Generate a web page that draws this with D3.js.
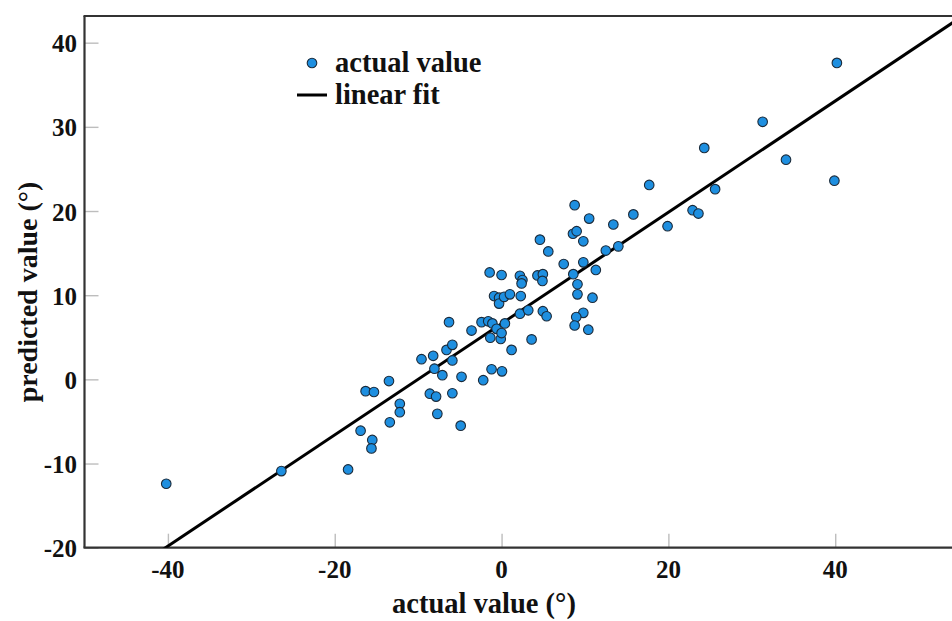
<!DOCTYPE html>
<html>
<head>
<meta charset="utf-8">
<script src="https://cdn.jsdelivr.net/npm/d3@7"></script>
<style>
  html, body { margin: 0; padding: 0; background: #fff; }
  svg { display: block; }
  text { font-family: "Liberation Serif", "Times New Roman", serif; font-weight: bold; fill: #111; }
</style>
</head>
<body>
<svg id="chart" width="952" height="621"></svg>
<script>
// ---- data ----
const actualValues = [
  -40.2, -26.4, -18.4, -16.9, -15.5, -15.6, -16.3, -15.3, -13.5, -13.4,
  -12.2, -12.2, -9.6, -8.2, -8.05, -8.6, -7.85, -7.7, -7.1, -6.6,
  -6.3, -5.9, -5.9, -5.9, -4.9, -4.8, -3.6, -2.4, -2.2, -1.6,
  -1.43, -1.35, -1.2, -1.1, -0.9, -0.6, -0.3, -0.3, -0.1, 0.0,
  0.0, 0.05, 0.3, 0.4, 1.0, 1.2, 2.2, 2.5, 2.4, 2.2,
  2.3, 3.2, 3.6, 4.3, 4.6, 4.95, 4.9, 4.95, 5.4, 5.6,
  7.45, 8.56, 9.0, 8.76, 9.8, 8.6, 9.8, 9.1, 9.1, 10.9,
  11.3, 10.5, 9.8, 8.95, 8.76, 10.4, 12.5, 14.0, 13.4, 15.8,
  17.7, 19.9, 22.9, 23.6, 24.3, 25.6, 31.3, 34.1, 39.9, 40.2
];
const predictedValues = [
  -12.4, -10.9, -10.7, -6.1, -7.2, -8.2, -1.4, -1.5, -0.2, -5.1,
  -2.9, -3.9, 2.4, 2.8, 1.27, -1.7, -2.05, -4.1, 0.5, 3.5,
  6.8, 4.1, 2.25, -1.65, -5.5, 0.3, 5.8, 6.8, -0.1, 6.9,
  12.7, 4.95, 1.2, 6.65, 9.9, 6.0, 9.7, 9.0, 4.8, 12.4,
  5.5, 0.95, 9.8, 6.65, 10.1, 3.5, 12.3, 11.8, 11.4, 7.8,
  9.9, 8.2, 4.75, 12.35, 16.6, 12.5, 11.7, 8.1, 7.5, 15.2,
  13.7, 17.3, 17.6, 20.7, 16.4, 12.5, 13.9, 11.3, 10.1, 9.7,
  13.0, 19.1, 7.9, 7.4, 6.4, 5.9, 15.3, 15.8, 18.4, 19.6,
  23.1, 18.2, 20.1, 19.7, 27.5, 22.6, 30.6, 26.1, 23.6, 37.6
];
const xTicks = [-40, -20, 0, 20, 40];
const yTicks = [-20, -10, 0, 10, 20, 30, 40];
const fitIntercept = 6.63;
const fitSlope = 0.661;
const xTitle = "actual value (°)";
const yTitle = "predicted value (°)";
const legendLabels = ["actual value", "linear fit"];

// ---- layout ----
const svg = d3.select("#chart");
const pLeft = 84.5, pRight = 952, pTop = 16, pBottom = 547.7;

const x = d3.scaleLinear().domain([-50, 54]).range([pLeft, pRight]);
const y = d3.scaleLinear().domain([-20, 43.17]).range([pBottom, pTop]);

// clip
svg.append("defs").append("clipPath").attr("id", "plotclip")
  .append("rect").attr("x", pLeft).attr("y", pTop).attr("width", pRight - pLeft).attr("height", pBottom - pTop);

// ticks (inside, gray) via axes
const xAxis = d3.axisTop(x).tickValues(xTicks).tickSize(14).tickFormat("");
const yAxis = d3.axisRight(y).tickValues(yTicks).tickSize(14).tickFormat("");
const gx = svg.append("g").attr("transform", `translate(0,${pBottom})`).call(xAxis);
const gy = svg.append("g").attr("transform", `translate(${pLeft},0)`).call(yAxis);
[gx, gy].forEach(g => {
  g.select(".domain").remove();
  g.selectAll(".tick line").attr("stroke", "#bdbdbd").attr("stroke-width", 1.4);
});

// tick labels
svg.append("g").selectAll("text").data(xTicks).join("text")
  .attr("x", d => x(d)).attr("y", 578)
  .attr("text-anchor", "middle").attr("font-size", 25)
  .text(d => d);
svg.append("g").selectAll("text").data(yTicks).join("text")
  .attr("x", 77).attr("y", d => y(d)).attr("dy", "0.38em")
  .attr("text-anchor", "end").attr("font-size", 25)
  .text(d => d);

// frame
const frame = svg.append("g").attr("stroke", "#333").attr("stroke-width", 2.2).attr("fill", "none");
frame.append("line").attr("x1", pLeft).attr("x2", pLeft).attr("y1", pTop).attr("y2", pBottom);
frame.append("line").attr("x1", pLeft - 1).attr("x2", pRight).attr("y1", pTop).attr("y2", pTop);
frame.append("line").attr("x1", pLeft - 1).attr("x2", pRight).attr("y1", pBottom).attr("y2", pBottom);

// fit line
const plot = svg.append("g").attr("clip-path", "url(#plotclip)");
const xs = [-50, 60];
plot.append("path")
  .datum(xs.map(v => [v, fitIntercept + fitSlope * v]))
  .attr("d", d3.line().x(d => x(d[0])).y(d => y(d[1])))
  .attr("stroke", "#000").attr("stroke-width", 3).attr("fill", "none");

// points
const pts = actualValues.map((v, i) => ({ a: v, p: predictedValues[i] }));
svg.append("g").selectAll("circle").data(pts).join("circle")
  .attr("cx", d => x(d.a)).attr("cy", d => y(d.p)).attr("r", 4.8)
  .attr("fill", "#1e8fe0").attr("stroke", "#1a2a3a").attr("stroke-width", 1.1);

// axis titles
svg.append("text").attr("x", 484).attr("y", 613).attr("text-anchor", "middle")
  .attr("font-size", 28.5).text(xTitle);
svg.append("text").attr("transform", "translate(37,292) rotate(-90)")
  .attr("text-anchor", "middle").attr("font-size", 28).text(yTitle);

// legend
const lg = svg.append("g");
lg.append("circle").attr("cx", 312).attr("cy", 63).attr("r", 4.8)
  .attr("fill", "#1e8fe0").attr("stroke", "#1a2a3a").attr("stroke-width", 1.1);
lg.append("text").attr("x", 335).attr("y", 72).attr("font-size", 28.5).text(legendLabels[0]);
lg.append("line").attr("x1", 297).attr("x2", 327).attr("y1", 95).attr("y2", 95)
  .attr("stroke", "#000").attr("stroke-width", 3);
lg.append("text").attr("x", 335).attr("y", 104).attr("font-size", 28.5).text(legendLabels[1]);
</script>
</body>
</html>
